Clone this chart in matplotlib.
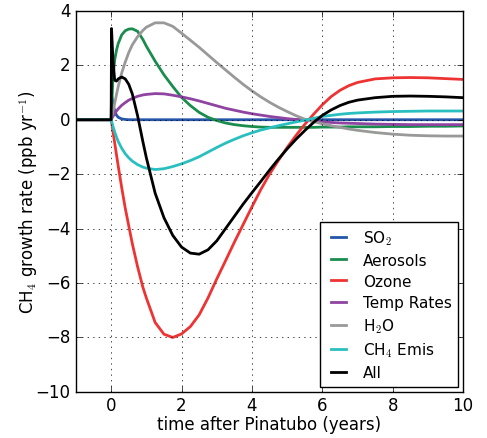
import numpy as np
import matplotlib
matplotlib.use('Agg')
import matplotlib.pyplot as plt

plt.style.use('classic')

# time after Pinatubo (years)
t = [-1, 0, 0.01, 0.05, 0.1, 0.15, 0.2, 0.3, 0.4, 0.5, 0.6, 0.75, 0.9, 1.0,
     1.25, 1.5, 1.75, 2.0, 2.25, 2.5, 2.75, 3.0, 3.25, 3.5, 3.75, 4.0, 4.25,
     4.5, 4.75, 5.0, 5.25, 5.5, 5.75, 6.0, 6.25, 6.5, 6.75, 7.0, 7.5, 8.0,
     8.5, 9.0, 9.5, 10.0]

so2 = [0, 0, 0.9, 0.6, 0.32, 0.17, 0.09, 0.03, 0.01] + [0] * 35

aerosols = [0, 0, 0.35, 1.55, 2.2, 2.55, 2.8, 3.12, 3.27, 3.33, 3.34, 3.25,
            2.95, 2.7, 2.15, 1.65, 1.22, 0.82, 0.52, 0.27, 0.09, -0.03, -0.12,
            -0.18, -0.22, -0.25, -0.27, -0.28, -0.28, -0.28, -0.28, -0.28,
            -0.28, -0.27, -0.27, -0.27, -0.26, -0.26, -0.26, -0.25, -0.25,
            -0.24, -0.24, -0.23]

ozone = [0, 0, -0.08, -0.42, -0.85, -1.28, -1.7, -2.5, -3.25, -3.9, -4.55,
         -5.4, -6.15, -6.55, -7.45, -7.88, -8.0, -7.87, -7.6, -7.17, -6.55,
         -5.85, -5.18, -4.5, -3.85, -3.2, -2.57, -2.0, -1.5, -1.02, -0.58,
         -0.17, 0.2, 0.55, 0.85, 1.08, 1.25, 1.37, 1.5, 1.54, 1.55, 1.54,
         1.51, 1.48]

temp = [0, 0, 0.03, 0.12, 0.22, 0.32, 0.4, 0.53, 0.63, 0.72, 0.78, 0.86,
        0.91, 0.93, 0.96, 0.95, 0.9, 0.84, 0.77, 0.69, 0.6, 0.51, 0.42, 0.35,
        0.28, 0.22, 0.17, 0.12, 0.08, 0.04, 0.01, -0.02, -0.05, -0.08, -0.1,
        -0.12, -0.13, -0.14, -0.16, -0.17, -0.18, -0.18, -0.18, -0.18]

h2o = [0, 0, 0.06, 0.3, 0.6, 0.92, 1.22, 1.72, 2.12, 2.47, 2.75, 3.05, 3.28,
       3.4, 3.56, 3.56, 3.43, 3.18, 2.92, 2.66, 2.38, 2.1, 1.83, 1.56, 1.3,
       1.06, 0.84, 0.64, 0.46, 0.3, 0.15, 0.02, -0.07, -0.15, -0.22, -0.28,
       -0.34, -0.39, -0.47, -0.53, -0.57, -0.59, -0.6, -0.6]

ch4 = [0, 0, -0.05, -0.24, -0.45, -0.63, -0.8, -1.05, -1.25, -1.4, -1.52,
       -1.65, -1.74, -1.78, -1.83, -1.8, -1.72, -1.62, -1.5, -1.36, -1.19,
       -1.02, -0.86, -0.72, -0.59, -0.48, -0.38, -0.3, -0.22, -0.15, -0.08,
       -0.02, 0.05, 0.12, 0.16, 0.2, 0.23, 0.25, 0.28, 0.3, 0.31, 0.32, 0.32,
       0.32]

all_ = [0, 0, 3.35, 2.2, 1.45, 1.42, 1.5, 1.57, 1.5, 1.3, 0.95, 0.15, -0.8,
        -1.4, -2.7, -3.6, -4.25, -4.68, -4.9, -4.94, -4.78, -4.45, -4.0, -3.55,
        -3.1, -2.68, -2.27, -1.85, -1.45, -1.07, -0.72, -0.4, -0.1, 0.16,
        0.36, 0.52, 0.64, 0.72, 0.81, 0.86, 0.87, 0.86, 0.84, 0.81]

labels = ['SO$_2$', 'Aerosols', 'Ozone', 'Temp Rates', 'H$_2$O',
          'CH$_4$ Emis', 'All']
colors = ['#2456aa', '#1a8c4e', '#ee3333', '#8e44a0', '#999999',
          '#2abfbf', 'k']

fig = plt.figure(figsize=(4.87, 4.39), dpi=100, facecolor='white')
ax = fig.add_axes([0.156, 0.105, 0.795, 0.868])

series = [so2, aerosols, ozone, temp, h2o, ch4, all_]
for y, lab, c in zip(series, labels, colors):
    ax.plot(t, y, color=c, lw=2, label=lab)

ax.set_xlim(-1, 10)
ax.set_ylim(-10, 4)
ax.set_xticks([0, 2, 4, 6, 8, 10])
ax.set_yticks([-10, -8, -6, -4, -2, 0, 2, 4])
ax.tick_params(labelsize=12)
ax.tick_params(axis='x', pad=3)
ax.grid(True)
ax.set_xlabel('time after Pinatubo (years)', fontsize=12, labelpad=1)
ax.set_ylabel('CH$_4$ growth rate (ppb yr$^{-1}$)', fontsize=12, labelpad=-3)
ax.legend(loc='lower right', fontsize=11, handlelength=1.6,
          labelspacing=0.4, borderaxespad=0.35)

fig.savefig('out.png', dpi=100, facecolor='white')
